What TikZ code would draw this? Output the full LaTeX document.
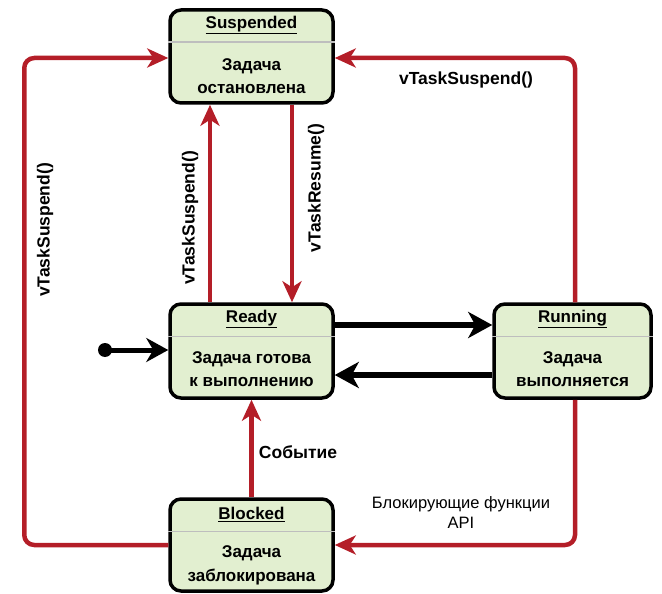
\documentclass[tikz,border=0pt]{standalone}
\usepackage{fontspec}
\setmainfont{Liberation Sans}
\usetikzlibrary{arrows.meta,calc}
\definecolor{boxgreen}{RGB}{226,239,208}
\definecolor{arrred}{RGB}{180,30,40}
\definecolor{sepgray}{RGB}{190,190,190}
\begin{document}
\begin{tikzpicture}[x=1pt,y=-1pt,
  state/.style={draw=black, line width=3.5pt, rounded corners=11pt, fill=boxgreen, inner sep=0pt},
  ttl/.style={font=\fontsize{17}{18}\selectfont\bfseries},
  body/.style={font=\fontsize{17}{23.5}\selectfont\bfseries, align=center},
  lbl/.style={font=\fontsize{17.5}{19}\selectfont\bfseries},
  redarr/.style={draw=arrred, line width=4.5pt, rounded corners=10pt, -{Stealth[length=21pt,width=19pt,inset=6pt]}},
  blkarr/.style={draw=black, line width=6pt, -{Stealth[length=24pt,width=26pt,inset=7pt]}},
  sep/.style={draw=sepgray, line width=1.5pt}]
\useasboundingbox (0,0) rectangle (662,594);

% boxes
\node[state, minimum width=163pt, minimum height=93pt] (S) at (251.5,56.5) {};
\node[state, minimum width=163pt, minimum height=94pt] (R) at (251.5,351) {};
\node[state, minimum width=157pt, minimum height=94pt] (U) at (572.5,351) {};
\node[state, minimum width=163pt, minimum height=92pt] (B) at (251.5,545) {};

% separators
\draw[sep] ($(S.north west)+(0,34)$) -- ($(S.north east)+(0,34)$);
\draw[sep] ($(R.north west)+(0,34)$) -- ($(R.north east)+(0,34)$);
\draw[sep] ($(U.north west)+(0,34)$) -- ($(U.north east)+(0,34)$);
\draw[sep] ($(B.north west)+(0,34)$) -- ($(B.north east)+(0,34)$);

% titles
\node[ttl] (St) at ($(S.north)+(0,17)$) {\underline{Suspended}};
\node[ttl] (Rt) at ($(R.north)+(0,17)$) {\underline{Ready}};
\node[ttl] (Ut) at ($(U.north)+(0,17)$) {\underline{Running}};
\node[ttl] (Bt) at ($(B.north)+(0,17)$) {\underline{Blocked}};

% bodies
\node[body] (Sb) at ($(S.north)+(0,68)$) {Задача\\остановлена};
\node[body] (Rb) at ($(R.north)+(0,67)$) {Задача готова\\к выполнению};
\node[body] (Ub) at ($(U.north)+(0,67)$) {Задача\\выполняется};
\node[body] (Bb) at ($(B.north)+(0,68)$) {Задача\\заблокирована};

% initial state
\coordinate (init) at (105,350);
\fill (init) circle (7pt);
\draw[draw=black, line width=5pt, -{Stealth[length=22pt,width=24pt,inset=7pt]}] (init) -- (init -| R.west);

% black arrows between Ready and Running
\draw[blkarr] ($(R.east)+(0,-26)$) -- ($(U.west)+(0,-26)$);
\draw[blkarr] ($(U.west)+(0,24)$) -- ($(R.east)+(0,24)$);

% Ready <-> Suspended
\draw[redarr] ($(R.north)+(-41.5,0)$) -- ($(S.south)+(-41.5,0)$);
\draw[redarr] ($(S.south)+(40.5,0)$) -- ($(R.north)+(40.5,0)$);
\node[lbl, rotate=90] (l1) at (190,218) {vTaskSuspend()};
\node[lbl, rotate=90] (l2) at (316,188) {vTaskResume()};

% Blocked -> Ready
\draw[redarr] (B.north) -- (R.south);
\node[lbl] (l3) at (298,452) {Событие};

% left loop Blocked -> Suspended
\draw[redarr] (B.west) -- ++(-144,0) |- ($(S.west)+(0,1.5)$);
\node[lbl, rotate=90] (l4) at (45,230) {vTaskSuspend()};

% right loop Running -> Suspended
\draw[redarr] ($(U.north)+(2.5,0)$) |- ($(S.east)+(0,1.5)$);
\node[lbl] (l5) at (466,80) {vTaskSuspend()};

% Running -> Blocked
\draw[redarr] ($(U.south)+(2.5,0)$) |- (B.east);
\node[font=\fontsize{16.5}{20}\selectfont, align=center] (l6) at (461,513) {Блокирующие функции\\API};
\end{tikzpicture}
\end{document}
